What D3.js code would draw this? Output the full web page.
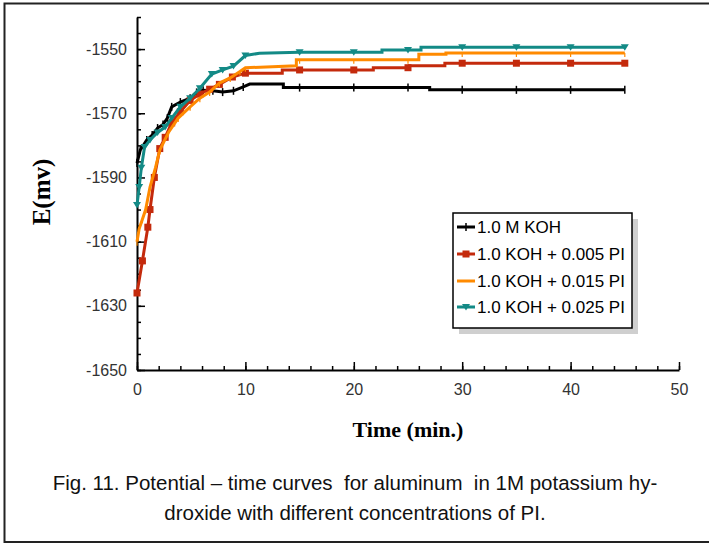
<!DOCTYPE html>
<html>
<head>
<meta charset="utf-8">
<script src="https://cdn.jsdelivr.net/npm/d3@7"></script>
<style>
  body { margin: 0; background: #fff; }
</style>
</head>
<body>
<svg id="chart" width="709" height="544"></svg>
<script>
// values: [time (min), E (mV)]
let kohOnly = [[0, -1585.5], [0.3, -1581.5], [0.9, -1578.3], [1.4, -1576.8], [1.9, -1574.6], [2.4, -1573.5],
    [2.8, -1571.5], [3.2, -1568], [4, -1566.5], [4.9, -1565.3], [5.5, -1563.5], [6.1, -1562.8], [7, -1563],
    [7.9, -1563.4], [8.9, -1563], [9.8, -1561.8], [10.4, -1560.9], [13.5, -1560.9], [13.5, -1562],
    [15, -1562], [20, -1562], [25, -1562], [27, -1562], [27, -1562.7], [30, -1562.7], [35, -1562.7],
    [40, -1562.7], [45, -1562.7]];
let pi005 = [[0, -1626], [0.5, -1616], [1, -1605.5], [1.2, -1600], [1.6, -1590], [2.1, -1581], [2.6, -1577.5],
    [3.2, -1573], [4, -1569.5], [4.9, -1566], [5.8, -1564], [6.7, -1562.5], [7.6, -1561], [8.8, -1558.7],
    [10, -1557.5], [13.4, -1557.5], [13.4, -1556.5], [15, -1556.5], [20, -1556.5], [21.8, -1556.5],
    [21.8, -1555.8], [25, -1555.8], [25.1, -1555.2], [28.4, -1555.2], [28.4, -1554.4], [30, -1554.4],
    [35, -1554.4], [40, -1554.4], [45, -1554.4]];
let pi015 = [[0, -1610], [0.2, -1606], [0.5, -1603], [0.8, -1600], [1.2, -1593], [1.7, -1587], [2.1, -1581.5],
    [2.9, -1576], [3.8, -1571.5], [4.9, -1568], [5.8, -1565.3], [6.7, -1563.4], [7.6, -1560.6], [8.6, -1559],
    [9.5, -1557], [10, -1555.8], [14.7, -1555.2], [14.7, -1553.3], [15, -1553.3], [20, -1553.3],
    [25, -1553.3], [26, -1553.3], [26, -1551.6], [28.5, -1551.6], [28.5, -1551.2], [30, -1551.2],
    [35, -1551.2], [40, -1551.2], [45, -1551.2]];
let pi025 = [[0, -1598.6], [0.2, -1593], [0.4, -1587], [0.7, -1580.5], [1.2, -1578.3], [1.9, -1576],
    [2.6, -1574.3], [3.2, -1571.5], [4, -1568], [4.9, -1565.3], [5.8, -1562.2], [6.9, -1557.8], [7.9, -1556.5],
    [8.9, -1555.3], [10, -1552], [11.3, -1551.3], [15, -1551], [20, -1551], [22.6, -1551], [22.6, -1550.3],
    [25, -1550.3], [26.2, -1550.3], [26.2, -1549.4], [30, -1549.4], [35, -1549.4], [40, -1549.4], [45, -1549.4]];

let seriesNames = ["1.0 M KOH", "1.0 KOH + 0.005 PI", "1.0 KOH + 0.015 PI", "1.0 KOH + 0.025 PI"];
let seriesColors = ["#000000", "#c42a0c", "#ff8a00", "#138a86"];
let seriesMarks = ["plus", "square", "tick", "triangle"];

let xTicks = [0, 10, 20, 30, 40, 50];
let yTicks = [-1650, -1630, -1610, -1590, -1570, -1550];

let caption = ["Fig. 11. Potential \u2013 time curves  for aluminum  in 1M potassium hy-",
    "droxide with different concentrations of PI."];

const SANS = "Arial, 'Liberation Sans', sans-serif";
const SERIF = "'Times New Roman', 'Liberation Serif', serif";

let svg = d3.select("#chart");

// outer frame (right side falls off the page)
svg.append("path")
    .attr("d", "M709,3.5 H4.5 V542 H709")
    .attr("fill", "none")
    .attr("stroke", "#222")
    .attr("stroke-width", 2);

let x = d3.scaleLinear().domain([0, 50]).range([137, 679]);
let y = d3.scaleLinear().domain([-1650, -1540]).range([370, 17]);

// minor ticks
svg.append("g")
    .attr("transform", "translate(0,370)")
    .call(d3.axisBottom(x).tickValues(d3.range(0, 51, 2)).tickSize(-4).tickFormat(""))
    .call(g => g.select(".domain").remove());
svg.append("g")
    .attr("transform", "translate(137,0)")
    .call(d3.axisLeft(y).tickValues(d3.range(-1650, -1539, 5)).tickSize(-4).tickFormat(""))
    .call(g => g.select(".domain").remove());

// major ticks and labels
let xAxis = svg.append("g")
    .attr("transform", "translate(0,370)")
    .call(d3.axisBottom(x).tickValues(xTicks).tickSize(-8).tickPadding(14).tickSizeOuter(0)
        .tickFormat(d => String(d)));
let yAxis = svg.append("g")
    .attr("transform", "translate(137,0)")
    .call(d3.axisLeft(y).tickValues(yTicks).tickSize(-8).tickPadding(10).tickSizeOuter(0)
        .tickFormat(d => String(d)));

svg.selectAll(".tick line").attr("stroke", "#000").attr("stroke-width", 1.5);
[xAxis, yAxis].forEach(g => {
    g.select(".domain").attr("stroke", "#000").attr("stroke-width", 2);
    g.selectAll("text")
        .attr("font-size", 16)
        .attr("fill", "#333")
        .style("font-family", SANS);
});

// axis titles
svg.append("text")
    .attr("transform", "translate(50,192) rotate(-90)")
    .attr("text-anchor", "middle")
    .style("font-family", SERIF)
    .attr("font-weight", "bold")
    .attr("font-size", 25)
    .text("E(mv)");

svg.append("text")
    .attr("x", 408)
    .attr("y", 437)
    .attr("text-anchor", "middle")
    .style("font-family", SERIF)
    .attr("font-weight", "bold")
    .attr("font-size", 22)
    .text("Time (min.)");

// curves
let allSeries = [kohOnly, pi005, pi015, pi025];
let line = d3.line().x(d => x(d[0])).y(d => y(d[1]));

function drawMark(g, kind, color, px, py) {
    if (kind === "square") {
        g.append("rect").attr("x", px - 3.5).attr("y", py - 3.5).attr("width", 7).attr("height", 7)
            .attr("fill", color);
    } else if (kind === "triangle") {
        g.append("path").attr("d", `M${px - 4},${py - 3} H${px + 4} L${px},${py + 3.5} Z`)
            .attr("fill", color);
    } else if (kind === "plus") {
        g.append("path").attr("d", `M${px},${py - 4} V${py + 4}`)
            .attr("stroke", color).attr("stroke-width", 1.5);
    } else {
        g.append("path").attr("d", `M${px},${py} V${py + 4}`)
            .attr("stroke", color).attr("stroke-width", 1.2);
    }
}

allSeries.forEach((data, i) => {
    let g = svg.append("g");
    g.append("path")
        .datum(data)
        .attr("d", line)
        .attr("fill", "none")
        .attr("stroke", seriesColors[i])
        .attr("stroke-width", 3);
    data.filter((d, k) => (d[0] <= 10 || d[0] % 5 === 0) &&
            !(k > 0 && data[k - 1][0] === d[0]))
        .forEach(d => drawMark(g, seriesMarks[i], seriesColors[i], x(d[0]), y(d[1])));
});

// legend
let legend = svg.append("g");
legend.append("rect")
    .attr("x", 459).attr("y", 219).attr("width", 179).attr("height", 115)
    .attr("fill", "#cfcfcf");
legend.append("rect")
    .attr("x", 453).attr("y", 213).attr("width", 179).attr("height", 115)
    .attr("fill", "#fff").attr("stroke", "#000").attr("stroke-width", 1.5);

let rowY = [227, 254, 281, 307];
seriesNames.forEach((name, i) => {
    legend.append("line")
        .attr("x1", 457).attr("x2", 475)
        .attr("y1", rowY[i]).attr("y2", rowY[i])
        .attr("stroke", seriesColors[i]).attr("stroke-width", 3);
    if (seriesMarks[i] !== "tick") drawMark(legend, seriesMarks[i], seriesColors[i], 466, rowY[i]);
    legend.append("text")
        .attr("x", 477).attr("y", rowY[i])
        .attr("dy", "0.36em")
        .attr("font-size", 17)
        .style("font-family", SANS)
        .text(name);
});

// caption
svg.selectAll(".caption")
    .data(caption)
    .enter().append("text")
    .attr("class", "caption")
    .attr("x", 355)
    .attr("y", (d, i) => 490 + i * 30)
    .attr("text-anchor", "middle")
    .attr("font-size", 20.5)
    .attr("fill", "#111")
    .style("font-family", SANS)
    .style("white-space", "pre")
    .text(d => d);
</script>
</body>
</html>
